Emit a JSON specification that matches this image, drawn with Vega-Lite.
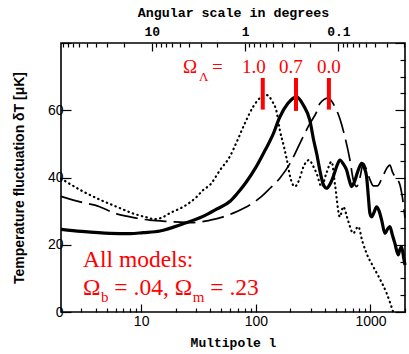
{
  "$schema": "https://vega.github.io/schema/vega-lite/v6.json",
  "width": 344,
  "height": 269,
  "autosize": {"type": "none"},
  "padding": {"left": 61, "top": 43, "right": 4, "bottom": 42},
  "background": "white",
  "config": {
    "view": {"stroke": "#000", "strokeWidth": 1.6},
    "axis": {"domain": false, "grid": false, "tickColor": "#000", "labelColor": "#000", "titleColor": "#000", "tickWidth": 1.2, "labelOverlap": false}
  },
  "datasets": {
    "curves": [
      {"model": "0.7", "l": 2, "T": 24.6}, {"model": "0.7", "l": 3, "T": 24.0}, {"model": "0.7", "l": 5.35, "T": 23.4}, {"model": "0.7", "l": 8, "T": 23.3}, {"model": "0.7", "l": 10.4, "T": 23.6}, {"model": "0.7", "l": 14.6, "T": 24.1}, {"model": "0.7", "l": 23, "T": 26.2}, {"model": "0.7", "l": 35, "T": 28.5}, {"model": "0.7", "l": 45, "T": 30.5}, {"model": "0.7", "l": 60, "T": 33}, {"model": "0.7", "l": 68, "T": 35}, {"model": "0.7", "l": 82, "T": 38.5}, {"model": "0.7", "l": 100, "T": 43}, {"model": "0.7", "l": 120, "T": 48}, {"model": "0.7", "l": 140, "T": 52.5}, {"model": "0.7", "l": 162, "T": 58}, {"model": "0.7", "l": 190, "T": 62}, {"model": "0.7", "l": 227, "T": 64}, {"model": "0.7", "l": 260, "T": 61.5}, {"model": "0.7", "l": 296, "T": 57}, {"model": "0.7", "l": 320, "T": 51}, {"model": "0.7", "l": 339, "T": 47.2}, {"model": "0.7", "l": 365, "T": 41.5}, {"model": "0.7", "l": 387, "T": 38}, {"model": "0.7", "l": 414, "T": 36.8}, {"model": "0.7", "l": 440, "T": 37.8}, {"model": "0.7", "l": 473, "T": 40.2}, {"model": "0.7", "l": 510, "T": 43.5}, {"model": "0.7", "l": 541, "T": 45.2}, {"model": "0.7", "l": 580, "T": 44}, {"model": "0.7", "l": 619, "T": 42.2}, {"model": "0.7", "l": 650, "T": 39.5}, {"model": "0.7", "l": 684, "T": 37.3}, {"model": "0.7", "l": 720, "T": 38.5}, {"model": "0.7", "l": 782, "T": 42.2}, {"model": "0.7", "l": 837, "T": 44.2}, {"model": "0.7", "l": 880, "T": 43}, {"model": "0.7", "l": 925, "T": 40.2}, {"model": "0.7", "l": 960, "T": 34}, {"model": "0.7", "l": 988, "T": 29.4}, {"model": "0.7", "l": 1023, "T": 28.3}, {"model": "0.7", "l": 1070, "T": 29.5}, {"model": "0.7", "l": 1130, "T": 31.3}, {"model": "0.7", "l": 1190, "T": 30}, {"model": "0.7", "l": 1250, "T": 27.4}, {"model": "0.7", "l": 1337, "T": 23.4}, {"model": "0.7", "l": 1400, "T": 24.5}, {"model": "0.7", "l": 1477, "T": 25.4}, {"model": "0.7", "l": 1550, "T": 23}, {"model": "0.7", "l": 1633, "T": 20.4}, {"model": "0.7", "l": 1746, "T": 17}, {"model": "0.7", "l": 1800, "T": 18.5}, {"model": "0.7", "l": 1866, "T": 19.4}, {"model": "0.7", "l": 1950, "T": 16}, {"model": "0.7", "l": 2000, "T": 14},
      {"model": "1.0", "l": 2, "T": 39.7}, {"model": "1.0", "l": 3.13, "T": 35.8}, {"model": "1.0", "l": 4.5, "T": 33.2}, {"model": "1.0", "l": 6.12, "T": 31.3}, {"model": "1.0", "l": 8.5, "T": 29.3}, {"model": "1.0", "l": 11.9, "T": 27.9}, {"model": "1.0", "l": 12.8, "T": 27.6}, {"model": "1.0", "l": 15, "T": 28}, {"model": "1.0", "l": 17.8, "T": 29.4}, {"model": "1.0", "l": 23.3, "T": 31.3}, {"model": "1.0", "l": 30, "T": 34}, {"model": "1.0", "l": 34.8, "T": 36.3}, {"model": "1.0", "l": 39.8, "T": 37.8}, {"model": "1.0", "l": 48.7, "T": 42.2}, {"model": "1.0", "l": 59.5, "T": 46.3}, {"model": "1.0", "l": 68, "T": 50.5}, {"model": "1.0", "l": 80, "T": 56}, {"model": "1.0", "l": 95, "T": 61.1}, {"model": "1.0", "l": 110, "T": 63.8}, {"model": "1.0", "l": 124, "T": 64.5}, {"model": "1.0", "l": 140, "T": 62.5}, {"model": "1.0", "l": 152, "T": 59.5}, {"model": "1.0", "l": 162, "T": 54.1}, {"model": "1.0", "l": 175, "T": 49.5}, {"model": "1.0", "l": 186, "T": 45.5}, {"model": "1.0", "l": 200, "T": 40}, {"model": "1.0", "l": 219, "T": 37.3}, {"model": "1.0", "l": 240, "T": 39.5}, {"model": "1.0", "l": 259, "T": 43}, {"model": "1.0", "l": 292, "T": 45.2}, {"model": "1.0", "l": 315, "T": 43.5}, {"model": "1.0", "l": 339, "T": 41.2}, {"model": "1.0", "l": 375, "T": 37.3}, {"model": "1.0", "l": 410, "T": 41}, {"model": "1.0", "l": 458, "T": 44.7}, {"model": "1.0", "l": 490, "T": 38}, {"model": "1.0", "l": 541, "T": 28.3}, {"model": "1.0", "l": 578, "T": 31.3}, {"model": "1.0", "l": 640, "T": 27}, {"model": "1.0", "l": 706, "T": 23.4}, {"model": "1.0", "l": 782, "T": 25.4}, {"model": "1.0", "l": 850, "T": 21}, {"model": "1.0", "l": 925, "T": 17.4}, {"model": "1.0", "l": 1057, "T": 13.5}, {"model": "1.0", "l": 1200, "T": 10}, {"model": "1.0", "l": 1383, "T": 5.6}, {"model": "1.0", "l": 1578, "T": 0},
      {"model": "0.0", "l": 2, "T": 34.4}, {"model": "0.0", "l": 3.13, "T": 32.5}, {"model": "0.0", "l": 3.96, "T": 31.8}, {"model": "0.0", "l": 6.12, "T": 29.2}, {"model": "0.0", "l": 7.48, "T": 28.5}, {"model": "0.0", "l": 11.9, "T": 27.3}, {"model": "0.0", "l": 17.8, "T": 26.9}, {"model": "0.0", "l": 28.5, "T": 26.6}, {"model": "0.0", "l": 40, "T": 27.3}, {"model": "0.0", "l": 52, "T": 28.3}, {"model": "0.0", "l": 63.6, "T": 29.4}, {"model": "0.0", "l": 80, "T": 31}, {"model": "0.0", "l": 95, "T": 32.5}, {"model": "0.0", "l": 109, "T": 34}, {"model": "0.0", "l": 133, "T": 36.8}, {"model": "0.0", "l": 162, "T": 39.8}, {"model": "0.0", "l": 199, "T": 44.2}, {"model": "0.0", "l": 243, "T": 50.2}, {"model": "0.0", "l": 290, "T": 55.5}, {"model": "0.0", "l": 339, "T": 59.5}, {"model": "0.0", "l": 362, "T": 62}, {"model": "0.0", "l": 428, "T": 63.6}, {"model": "0.0", "l": 490, "T": 61}, {"model": "0.0", "l": 541, "T": 57.5}, {"model": "0.0", "l": 598, "T": 52.1}, {"model": "0.0", "l": 662, "T": 45.2}, {"model": "0.0", "l": 706, "T": 39.5}, {"model": "0.0", "l": 757, "T": 37.3}, {"model": "0.0", "l": 810, "T": 40}, {"model": "0.0", "l": 865, "T": 44.2}, {"model": "0.0", "l": 920, "T": 42.5}, {"model": "0.0", "l": 1000, "T": 39}, {"model": "0.0", "l": 1060, "T": 37.5}, {"model": "0.0", "l": 1150, "T": 37.5}, {"model": "0.0", "l": 1250, "T": 39.5}, {"model": "0.0", "l": 1400, "T": 43}, {"model": "0.0", "l": 1477, "T": 43.7}, {"model": "0.0", "l": 1560, "T": 41.5}, {"model": "0.0", "l": 1700, "T": 39.5}, {"model": "0.0", "l": 1800, "T": 38}, {"model": "0.0", "l": 1900, "T": 34}, {"model": "0.0", "l": 2000, "T": 28}
    ],
    "bars": [
      {"label": "1.0", "l": 115, "T1": 60.2, "T2": 69.6},
      {"label": "0.7", "l": 224, "T1": 59.8, "T2": 69.6},
      {"label": "0.0", "l": 434, "T1": 60.2, "T2": 69.6}
    ],
    "bigText": [
      {"l": 3.11, "T": 13.3, "txt": "All models:"},
      {"l": 3.11, "T": 5.06, "txt": "Ω"},
      {"l": 5.84, "T": 5.06, "txt": "="},
      {"l": 8.59, "T": 5.06, "txt": ".04,"},
      {"l": 19.6, "T": 5.06, "txt": "Ω"},
      {"l": 40.1, "T": 5.06, "txt": "= .23"}
    ],
    "subText": [
      {"l": 4.47, "T": 2.97, "txt": "b"},
      {"l": 28.2, "T": 2.97, "txt": "m"}
    ],
    "topText": [
      {"l": 23.2, "T": 71.1, "txt": "Ω"},
      {"l": 41.5, "T": 71.1, "txt": "="}
    ],
    "topSub": [
      {"l": 31.9, "T": 68.7, "txt": "Λ"}
    ],
    "numText": [
      {"l": 96.3, "T": 71.1, "txt": "1.0"},
      {"l": 202, "T": 71.1, "txt": "0.7"},
      {"l": 434, "T": 71.1, "txt": "0.0"}
    ],
    "degTicks": [
      {"deg": 10, "T": 40}, {"deg": 1, "T": 40}, {"deg": 0.1, "T": 40}
    ]
  },
  "layer": [
    {
      "layer": [
        {
          "data": {"name": "curves"},
          "transform": [{"filter": "datum.model == '0.7'"}],
          "mark": {"type": "line", "color": "#000", "strokeWidth": 3.2, "interpolate": "monotone"},
          "encoding": {
            "x": {
              "field": "l", "type": "quantitative",
              "scale": {"type": "log", "domain": [2, 2000], "nice": false},
              "axis": {
                "orient": "bottom",
                "values": [2, 3, 4, 5, 6, 7, 8, 9, 10, 20, 30, 40, 50, 60, 70, 80, 90, 100, 200, 300, 400, 500, 600, 700, 800, 900, 1000, 2000],
                "labelExpr": "datum.value == 10 ? '10' : datum.value == 100 ? '100' : datum.value == 1000 ? '1000' : ''",
                "tickSize": {"condition": {"test": "datum.value == 10 || datum.value == 100 || datum.value == 1000", "value": -8}, "value": -4},
                "labelFont": "Liberation Sans", "labelFontSize": 14, "labelPadding": 10,
                "title": "Multipole l", "titleFont": "Liberation Mono", "titleFontSize": 13, "titleFontWeight": "bold", "titlePadding": 4
              }
            },
            "y": {
              "field": "T", "type": "quantitative",
              "scale": {"domain": [0, 80], "nice": false},
              "axis": {
                "orient": "left",
                "values": [0, 5, 10, 15, 20, 25, 30, 35, 40, 45, 50, 55, 60, 65, 70, 75, 80],
                "labelExpr": "datum.value % 20 == 0 && datum.value < 80 ? datum.label : ''",
                "tickSize": {"condition": {"test": "datum.value % 20 == 0", "value": -10}, "value": -5},
                "labelFont": "Liberation Sans", "labelFontSize": 14, "labelPadding": 8,
                "title": "Temperature fluctuation δT [μK]", "titleFont": "Liberation Sans", "titleFontSize": 14, "titleFontWeight": "bold", "titlePadding": 21
              }
            }
          }
        },
        {
          "data": {"name": "curves"},
          "transform": [{"filter": "datum.model == '1.0'"}],
          "mark": {"type": "line", "color": "#000", "strokeWidth": 2.2, "strokeDash": [0.5, 4.2], "strokeCap": "round", "interpolate": "monotone"},
          "encoding": {"x": {"field": "l", "type": "quantitative"}, "y": {"field": "T", "type": "quantitative"}}
        },
        {
          "data": {"name": "curves"},
          "transform": [{"filter": "datum.model == '0.0'"}],
          "mark": {"type": "line", "color": "#000", "strokeWidth": 1.7, "strokeDash": [22, 7], "interpolate": "monotone"},
          "encoding": {"x": {"field": "l", "type": "quantitative"}, "y": {"field": "T", "type": "quantitative"}}
        },
        {
          "data": {"name": "bars"},
          "mark": {"type": "rule", "color": "#ff0000", "strokeWidth": 4},
          "encoding": {"x": {"field": "l", "type": "quantitative"}, "y": {"field": "T1", "type": "quantitative"}, "y2": {"field": "T2"}}
        },
        {
          "data": {"name": "bigText"},
          "mark": {"type": "text", "color": "#ff0000", "font": "Liberation Serif", "fontSize": 23.5, "align": "left", "baseline": "alphabetic"},
          "encoding": {"x": {"field": "l", "type": "quantitative"}, "y": {"field": "T", "type": "quantitative"}, "text": {"field": "txt"}}
        },
        {
          "data": {"name": "subText"},
          "mark": {"type": "text", "color": "#ff0000", "font": "Liberation Serif", "fontSize": 15, "align": "left", "baseline": "alphabetic"},
          "encoding": {"x": {"field": "l", "type": "quantitative"}, "y": {"field": "T", "type": "quantitative"}, "text": {"field": "txt"}}
        },
        {
          "data": {"name": "topText"},
          "mark": {"type": "text", "color": "#ff0000", "font": "Liberation Serif", "fontSize": 19, "align": "left", "baseline": "alphabetic"},
          "encoding": {"x": {"field": "l", "type": "quantitative"}, "y": {"field": "T", "type": "quantitative"}, "text": {"field": "txt"}}
        },
        {
          "data": {"name": "topSub"},
          "mark": {"type": "text", "color": "#ff0000", "font": "Liberation Serif", "fontSize": 13, "align": "left", "baseline": "alphabetic"},
          "encoding": {"x": {"field": "l", "type": "quantitative"}, "y": {"field": "T", "type": "quantitative"}, "text": {"field": "txt"}}
        },
        {
          "data": {"name": "numText"},
          "mark": {"type": "text", "color": "#ff0000", "font": "Liberation Serif", "fontSize": 19, "align": "center", "baseline": "alphabetic"},
          "encoding": {"x": {"field": "l", "type": "quantitative"}, "y": {"field": "T", "type": "quantitative"}, "text": {"field": "txt"}}
        }
      ]
    },
    {
      "data": {"name": "degTicks"},
      "mark": {"type": "point", "opacity": 0},
      "encoding": {
        "x": {
          "field": "deg", "type": "quantitative",
          "scale": {"type": "log", "domain": [94, 0.0193], "nice": false},
          "axis": {
            "orient": "top",
            "values": [90, 80, 70, 60, 50, 40, 30, 20, 10, 9, 8, 7, 6, 5, 4, 3, 2, 1, 0.9, 0.8, 0.7, 0.6, 0.5, 0.4, 0.3, 0.2, 0.1, 0.09, 0.08, 0.07, 0.06, 0.05, 0.04, 0.03, 0.02],
            "labelExpr": "datum.value == 10 ? '10' : datum.value == 1 ? '1' : abs(datum.value - 0.1) < 1e-9 ? '0.1' : ''",
            "tickSize": {"condition": {"test": "datum.value == 10 || datum.value == 1 || abs(datum.value - 0.1) < 1e-9", "value": -8}, "value": -4},
            "labelFont": "Liberation Mono", "labelFontSize": 13, "labelFontWeight": "bold", "labelPadding": 13,
            "title": "Angular scale in degrees", "titleFont": "Liberation Mono", "titleFontSize": 13.3, "titleFontWeight": "bold", "titlePadding": 2
          }
        },
        "y": {
          "field": "T", "type": "quantitative",
          "scale": {"domain": [0, 80], "nice": false},
          "axis": {
            "orient": "right",
            "values": [0, 5, 10, 15, 20, 25, 30, 35, 40, 45, 50, 55, 60, 65, 70, 75, 80],
            "labels": false,
            "tickSize": {"condition": {"test": "datum.value % 20 == 0", "value": -10}, "value": -5},
            "title": null
          }
        }
      }
    }
  ],
  "resolve": {"scale": {"x": "independent", "y": "independent"}}
}
